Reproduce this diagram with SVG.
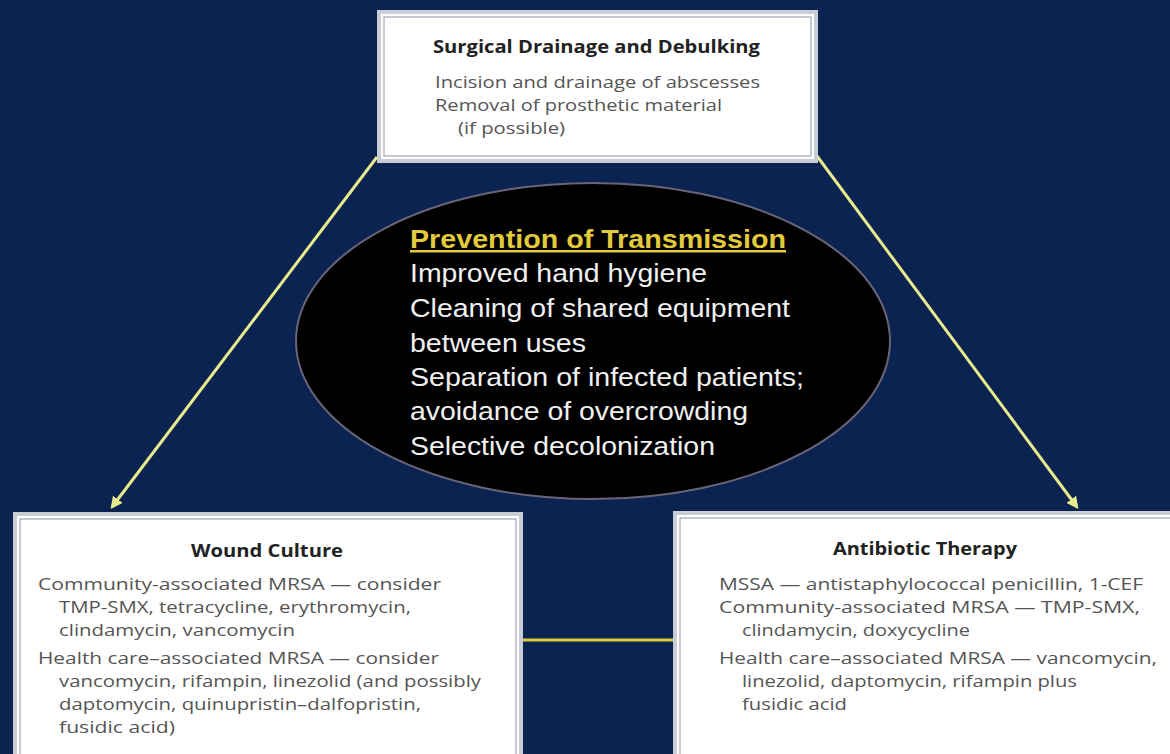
<svg xmlns="http://www.w3.org/2000/svg" width="1170" height="754" viewBox="0 0 1170 754">
<style>
.box{fill:#ffffff;stroke:#c9cdd6;stroke-width:4}
.inner{fill:none;stroke:#8d94a3;stroke-width:1}
.ttl{font-family:"Open Sans","Liberation Sans",sans-serif;font-weight:bold;font-size:17px;fill:#222}
.bd{font-family:"Open Sans","Liberation Sans",sans-serif;font-size:17px;fill:#555}
.eh{font-family:"Liberation Sans",Arial,sans-serif;font-weight:bold;font-size:25px;fill:#e2ca3a;text-decoration:underline}
.et{font-family:"Liberation Sans",Arial,sans-serif;font-size:25px;fill:#f0f0f0}
.arr{stroke:#e8ec8c;stroke-width:3;fill:none}
</style>
<defs>
<marker id="ah" viewBox="0 0 10 10" refX="8" refY="5" markerWidth="4" markerHeight="4" orient="auto">
<path d="M0,0 L10,5 L0,10 z" fill="#e8ec8c"/>
</marker>
</defs>
<rect width="1170" height="754" fill="#0a2350"/>

<g id="connectors">
<line class="arr" x1="377" y1="157" x2="112" y2="507" marker-end="url(#ah)"/>
<line class="arr" x1="817" y1="156" x2="1077" y2="507" marker-end="url(#ah)"/>
<line x1="521" y1="640" x2="675" y2="640" stroke="#d8ca3c" stroke-width="3"/>
</g>

<g id="surgical">
<rect class="box" x="379" y="12" width="437" height="149"/>
<rect class="inner" x="384" y="17" width="427" height="139"/>
<text class="ttl" x="433" y="53" textLength="327" lengthAdjust="spacingAndGlyphs">Surgical Drainage and Debulking</text>
<text class="bd" x="435" y="88" textLength="325" lengthAdjust="spacingAndGlyphs">Incision and drainage of abscesses</text>
<text class="bd" x="435" y="111" textLength="287" lengthAdjust="spacingAndGlyphs">Removal of prosthetic material</text>
<text class="bd" x="458" y="134" textLength="107" lengthAdjust="spacingAndGlyphs">(if possible)</text>
</g>

<g id="prevention">
<ellipse cx="593" cy="341" rx="297" ry="158" fill="#000" stroke="#6b6478" stroke-width="2"/>
<text class="eh" x="410" y="248" textLength="376" lengthAdjust="spacingAndGlyphs">Prevention of Transmission</text>
<text class="et" x="410" y="282" textLength="297" lengthAdjust="spacingAndGlyphs">Improved hand hygiene</text>
<text class="et" x="410" y="317" textLength="380" lengthAdjust="spacingAndGlyphs">Cleaning of shared equipment</text>
<text class="et" x="410" y="352" textLength="176" lengthAdjust="spacingAndGlyphs">between uses</text>
<text class="et" x="410" y="386" textLength="394" lengthAdjust="spacingAndGlyphs">Separation of infected patients;</text>
<text class="et" x="410" y="420" textLength="338" lengthAdjust="spacingAndGlyphs">avoidance of overcrowding</text>
<text class="et" x="410" y="455" textLength="305" lengthAdjust="spacingAndGlyphs">Selective decolonization</text>
</g>

<g id="wound">
<rect class="box" x="15" y="514" width="506" height="250"/>
<rect class="inner" x="20" y="519" width="496" height="240"/>
<text class="ttl" x="191" y="557" textLength="152" lengthAdjust="spacingAndGlyphs">Wound Culture</text>
<text class="bd" x="38" y="590" textLength="403" lengthAdjust="spacingAndGlyphs">Community-associated MRSA — consider</text>
<text class="bd" x="59" y="613" textLength="352" lengthAdjust="spacingAndGlyphs">TMP-SMX, tetracycline, erythromycin,</text>
<text class="bd" x="59" y="636" textLength="236" lengthAdjust="spacingAndGlyphs">clindamycin, vancomycin</text>
<text class="bd" x="38" y="664" textLength="401" lengthAdjust="spacingAndGlyphs">Health care–associated MRSA — consider</text>
<text class="bd" x="59" y="687" textLength="422" lengthAdjust="spacingAndGlyphs">vancomycin, rifampin, linezolid (and possibly</text>
<text class="bd" x="59" y="710" textLength="362" lengthAdjust="spacingAndGlyphs">daptomycin, quinupristin–dalfopristin,</text>
<text class="bd" x="59" y="733" textLength="116" lengthAdjust="spacingAndGlyphs">fusidic acid)</text>
</g>

<g id="antibiotic">
<rect class="box" x="675" y="513" width="510" height="250"/>
<rect class="inner" x="680" y="518" width="500" height="240"/>
<text class="ttl" x="833" y="555" textLength="184" lengthAdjust="spacingAndGlyphs">Antibiotic Therapy</text>
<text class="bd" x="719" y="590" textLength="424" lengthAdjust="spacingAndGlyphs">MSSA — antistaphylococcal penicillin, 1-CEF</text>
<text class="bd" x="719" y="613" textLength="421" lengthAdjust="spacingAndGlyphs">Community-associated MRSA — TMP-SMX,</text>
<text class="bd" x="742" y="636" textLength="228" lengthAdjust="spacingAndGlyphs">clindamycin, doxycycline</text>
<text class="bd" x="719" y="664" textLength="438" lengthAdjust="spacingAndGlyphs">Health care–associated MRSA — vancomycin,</text>
<text class="bd" x="742" y="687" textLength="335" lengthAdjust="spacingAndGlyphs">linezolid, daptomycin, rifampin plus</text>
<text class="bd" x="742" y="710" textLength="105" lengthAdjust="spacingAndGlyphs">fusidic acid</text>
</g>
</svg>
